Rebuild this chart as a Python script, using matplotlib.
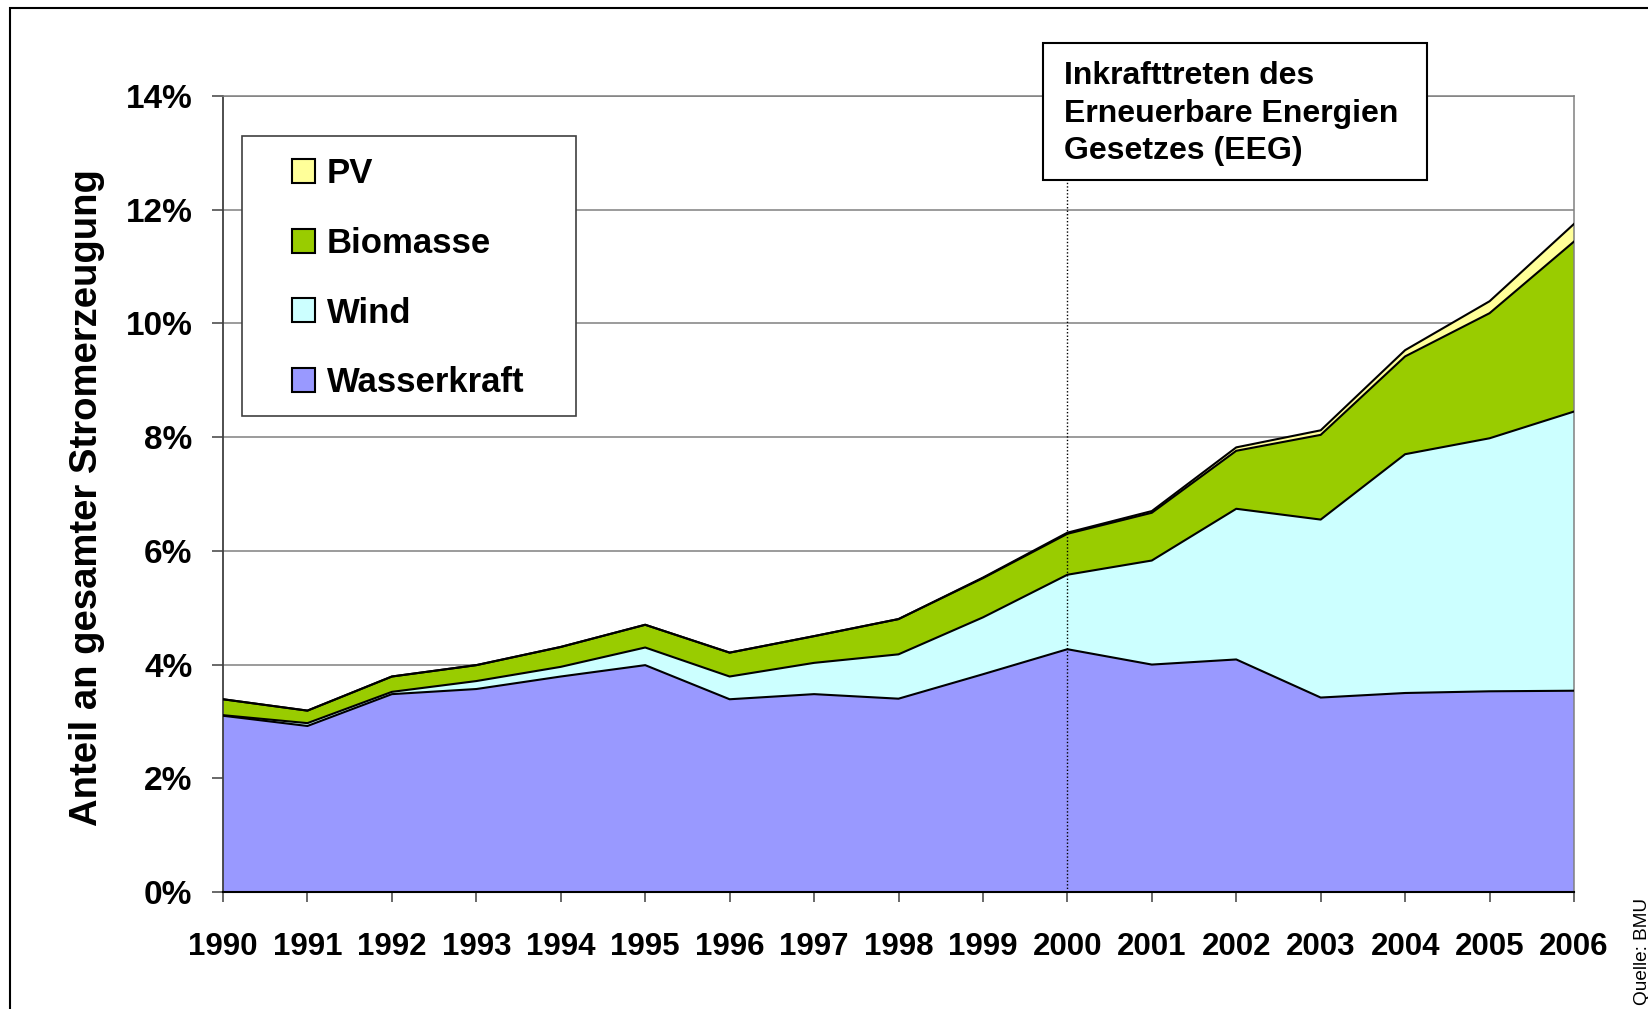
import matplotlib.pyplot as plt
from matplotlib.patches import Rectangle, Patch
import numpy as np

# Anteil an gesamter Stromerzeugung in %
years = list(range(1990, 2007))
wasserkraft = [3.10, 2.92, 3.48, 3.57, 3.79, 3.99, 3.39, 3.48, 3.40, 3.83, 4.27, 4.00, 4.09, 3.42, 3.50, 3.53, 3.54]
wind = [0.01, 0.05, 0.04, 0.14, 0.17, 0.31, 0.40, 0.55, 0.78, 1.00, 1.31, 1.83, 2.65, 3.13, 4.20, 4.45, 4.91]
biomasse = [0.28, 0.22, 0.27, 0.28, 0.35, 0.40, 0.42, 0.47, 0.62, 0.69, 0.72, 0.84, 1.02, 1.49, 1.72, 2.20, 2.99]
pv = [0.00, 0.00, 0.00, 0.00, 0.00, 0.00, 0.00, 0.00, 0.00, 0.01, 0.02, 0.03, 0.06, 0.08, 0.11, 0.21, 0.31]

series_names = ['Wasserkraft', 'Wind', 'Biomasse', 'PV']
colors = ['#9999FF', '#CCFFFF', '#99CC00', '#FFFF99']
y_ticks = [0, 2, 4, 6, 8, 10, 12, 14]
eeg_year = 2000

plt.rcParams['font.family'] = ['Liberation Sans', 'DejaVu Sans']
plt.rcParams['font.weight'] = 'bold'

W, H = 1648, 1009
fig = plt.figure(figsize=(W / 100, H / 100), dpi=100)


def fx(px):
    return px / W


def fy(py):
    return 1 - py / H


L, R, T, B = 223, 1574, 96, 892
ax = fig.add_axes([fx(L), fy(B), fx(R) - fx(L), fy(T) - fy(B)])


def ax_x(px):
    return (px - L) / (R - L)


def ax_y(py):
    return (B - py) / (B - T)


layers = np.vstack([wasserkraft, wind, biomasse, pv])
tops = np.cumsum(layers, axis=0)
bottom = np.zeros(len(years))
for color, top in zip(colors, tops):
    ax.fill_between(years, bottom, top, facecolor=color, linewidth=0, zorder=2)
    bottom = top
for top in tops:
    ax.plot(years, top, color='black', lw=1.5, zorder=3)

# EEG marker
ax.plot([eeg_year, eeg_year], [0, 12.6], color='black', lw=1, ls=(0, (1, 1.5)), zorder=4)

ax.set_xlim(years[0], years[-1])
ax.set_ylim(0, 14)
ax.set_xticks(years)
ax.set_xticklabels([str(y) for y in years])
ax.set_yticks(y_ticks)
ax.set_yticklabels(['%d%%' % v for v in y_ticks])
ax.yaxis.grid(True, color='#808080', lw=1.1)
ax.set_axisbelow(True)

for s in ['top', 'right']:
    ax.spines[s].set_color('#808080')
    ax.spines[s].set_linewidth(1.1)
ax.spines['left'].set_color('#404040')
ax.spines['left'].set_linewidth(1.3)
ax.spines['bottom'].set_color('black')
ax.spines['bottom'].set_linewidth(1.5)

ax.tick_params(axis='y', length=8, width=1.1, color='#404040', pad=14, labelsize=24)
ax.tick_params(axis='x', length=7.5, width=1.1, color='#404040', pad=21.5, labelsize=22.5)

ax.set_ylabel('Anteil an gesamter Stromerzeugung', fontsize=27.5, fontweight='bold')
ax.yaxis.set_label_coords(-0.087, 0.496)

# legend box + entries
ax.add_patch(Rectangle((ax_x(242), ax_y(416)), ax_x(576) - ax_x(242), ax_y(136) - ax_y(416),
                       transform=ax.transAxes, facecolor='white', edgecolor='#404040',
                       lw=1.2, zorder=5))
handles = [Patch(facecolor=c, edgecolor='black', lw=1.5) for c in colors[::-1]]
leg = ax.legend(handles, series_names[::-1], loc='upper left',
                bbox_to_anchor=(ax_x(291.5), ax_y(157)), frameon=False, borderpad=0,
                fontsize=25, handlelength=0.69, handleheight=0.69, handletextpad=0.32,
                labelspacing=1.06, borderaxespad=0)
leg.set_zorder(6)

# annotation box
fig.add_artist(Rectangle((fx(1043), fy(180)), fx(1427) - fx(1043), fy(43) - fy(180),
                         transform=fig.transFigure, facecolor='white', edgecolor='black',
                         lw=1.5, zorder=3))
fig.text(fx(1064), fy(61), 'Inkrafttreten des\nErneuerbare Energien\nGesetzes (EEG)',
         ha='left', va='top', fontsize=23, linespacing=1.33, zorder=4)

# outer frame (only top and left edges inside the picture)
fig.add_artist(Rectangle((fx(10), -0.5), 2, fy(8) + 0.5, transform=fig.transFigure,
                         fill=False, edgecolor='black', lw=1.5))

fig.text(fx(1647), fy(1005), 'Quelle: BMU', rotation=90, rotation_mode='anchor',
         ha='left', va='baseline', fontsize=13.7, fontweight='normal')

fig.savefig('out.png', dpi=100)
